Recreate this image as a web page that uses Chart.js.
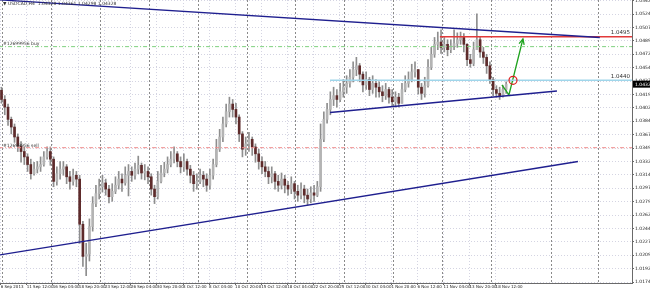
<!DOCTYPE html>
<html>
<head>
<meta charset="utf-8">
<script src="https://cdn.jsdelivr.net/npm/chart.js@4.4.0/dist/chart.umd.min.js"></script>
<style>
html, body { margin: 0; padding: 0; background: #fff; }
canvas { display: block; }
</style>
</head>
<body>
<canvas id="grafico" width="650" height="290"></canvas>
<script>
// USDCAD H4, una vela cada 8 horas (2 barras H4)
const primeraApertura = 1.0425
const cierres = [1.0413,1.0403,1.0387,1.0377,1.0364,1.0352,1.0345,1.0338,1.0328,1.0316,
  1.0322,1.0325,1.0328,1.0338,1.0345,1.0335,1.0306,1.0316,1.0322,1.0325,
  1.0312,1.0306,1.0314,1.0309,1.0250,1.0208,1.0211,1.0247,1.0277,1.0290,
  1.0299,1.0304,1.0296,1.0286,1.0293,1.0301,1.0309,1.0304,1.0314,1.0319,
  1.0314,1.0322,1.0327,1.0317,1.0319,1.0312,1.0296,1.0286,1.0306,1.0317,
  1.0322,1.0328,1.0335,1.0342,1.0332,1.0325,1.0332,1.0322,1.0314,1.0303,
  1.0306,1.0314,1.0309,1.0301,1.0314,1.0328,1.0348,1.0364,1.0381,1.0397,
  1.0407,1.0400,1.0390,1.0368,1.0348,1.0355,1.0361,1.0351,1.0342,1.0332,
  1.0325,1.0319,1.0312,1.0316,1.0306,1.0301,1.0309,1.0301,1.0296,1.0303,
  1.0293,1.0288,1.0296,1.0288,1.0283,1.0291,1.0288,1.0299,1.0361,1.0387,
  1.0400,1.0413,1.0418,1.0413,1.0423,1.0429,1.0434,1.0442,1.0452,1.0457,
  1.0446,1.0432,1.0439,1.0426,1.0434,1.0429,1.0423,1.0418,1.0426,1.0416,
  1.0410,1.0416,1.0408,1.0426,1.0434,1.0439,1.0449,1.0452,1.0429,1.0421,
  1.0431,1.0455,1.0472,1.0485,1.0488,1.0481,1.0485,1.0478,1.0483,1.0486,
  1.0491,1.0494,1.0485,1.0465,1.0460,1.0478,1.0491,1.0475,1.0468,1.0457,
  1.0439,1.0426,1.0421,1.0418,1.0426,1.0433]
const maximos = [1.0429,1.0418,1.0407,1.0390,1.0381,1.0368,1.0358,1.0351,1.0342,1.0335,
  1.0331,1.0332,1.0338,1.0345,1.0351,1.0351,1.0338,1.0325,1.0332,1.0332,
  1.0328,1.0319,1.0322,1.0319,1.0314,1.0254,1.0225,1.0257,1.0286,1.0301,
  1.0309,1.0314,1.0309,1.0301,1.0303,1.0312,1.0319,1.0316,1.0325,1.0328,
  1.0325,1.0330,1.0339,1.0330,1.0328,1.0325,1.0316,1.0301,1.0319,1.0327,
  1.0331,1.0338,1.0345,1.0351,1.0345,1.0338,1.0342,1.0335,1.0327,1.0319,
  1.0316,1.0322,1.0319,1.0316,1.0322,1.0335,1.0361,1.0374,1.0390,1.0407,
  1.0416,1.0413,1.0408,1.0393,1.0371,1.0364,1.0370,1.0364,1.0355,1.0348,
  1.0338,1.0332,1.0325,1.0325,1.0319,1.0314,1.0317,1.0314,1.0306,1.0312,
  1.0306,1.0301,1.0304,1.0301,1.0296,1.0299,1.0301,1.0306,1.0381,1.0397,
  1.0408,1.0423,1.0429,1.0426,1.0434,1.0439,1.0444,1.0452,1.0462,1.0468,
  1.0460,1.0449,1.0449,1.0442,1.0444,1.0439,1.0436,1.0431,1.0434,1.0429,
  1.0426,1.0423,1.0421,1.0434,1.0444,1.0449,1.0459,1.0462,1.0452,1.0434,
  1.0442,1.0465,1.0481,1.0494,1.0501,1.0504,1.0494,1.0491,1.0491,1.0504,
  1.0500,1.0501,1.0499,1.0486,1.0472,1.0488,1.0525,1.0494,1.0481,1.0472,
  1.0462,1.0442,1.0431,1.0429,1.0431,1.0436]
const minimos = [1.0408,1.0393,1.0379,1.0368,1.0357,1.0345,1.0331,1.0328,1.0319,1.0309,
  1.0314,1.0317,1.0319,1.0326,1.0335,1.0327,1.0299,1.0301,1.0309,1.0314,
  1.0303,1.0296,1.0301,1.0299,1.0225,1.0195,1.0183,1.0202,1.0241,1.0273,
  1.0283,1.0292,1.0288,1.0278,1.0280,1.0290,1.0296,1.0293,1.0301,1.0287,
  1.0306,1.0309,1.0316,1.0309,1.0308,1.0303,1.0288,1.0277,1.0283,1.0304,
  1.0312,1.0317,1.0325,1.0330,1.0325,1.0317,1.0319,1.0314,1.0304,1.0293,
  1.0296,1.0303,1.0299,1.0293,1.0296,1.0309,1.0325,1.0345,1.0358,1.0377,
  1.0390,1.0390,1.0381,1.0358,1.0338,1.0340,1.0345,1.0340,1.0331,1.0322,
  1.0316,1.0312,1.0303,1.0304,1.0296,1.0293,1.0296,1.0291,1.0288,1.0290,
  1.0283,1.0280,1.0283,1.0278,1.0275,1.0278,1.0280,1.0286,1.0293,1.0358,
  1.0382,1.0393,1.0405,1.0403,1.0410,1.0416,1.0421,1.0429,1.0436,1.0444,
  1.0436,1.0423,1.0426,1.0418,1.0421,1.0416,1.0416,1.0410,1.0413,1.0408,
  1.0405,1.0403,1.0403,1.0408,1.0423,1.0429,1.0436,1.0442,1.0420,1.0413,
  1.0416,1.0429,1.0452,1.0468,1.0478,1.0473,1.0475,1.0470,1.0474,1.0478,
  1.0481,1.0485,1.0475,1.0457,1.0455,1.0457,1.0481,1.0468,1.0460,1.0447,
  1.0434,1.0418,1.0416,1.0413,1.0416,1.0421]

// etiquetas del eje de tiempo, una cada 16 barras H4
const etiquetasTiempo = ['6 Sep 2013','11 Sep 12:00','16 Sep 04:00','18 Sep 20:00','23 Sep 12:00',
  '26 Sep 04:00','30 Sep 20:00','3 Oct 12:00','8 Oct 04:00','10 Oct 20:00','15 Oct 12:00',
  '18 Oct 04:00','22 Oct 20:00','25 Oct 12:00','30 Oct 04:00','1 Nov 20:00','6 Nov 12:00',
  '11 Nov 04:00','13 Nov 20:00','18 Nov 12:00']
const etiquetasPrecio = [1.01745,1.01920,1.02095,1.02270,1.02445,1.02620,1.02795,1.02970,
  1.03145,1.03320,1.03495,1.03670,1.03845,1.04020,1.04195,1.04370,1.04545,1.04720,
  1.04895,1.05070,1.05245,1.05420]
// separadores de semana (indice de barra H4)
const separadores = [1,31,61,91,121,151,181,211,241,271,301,338,367]

// objetos dibujados: [indice H4, precio]
const lineaSuperior = [[-0.4, 1.0543], [368, 1.0494]]
const lineaInferior = [[-0.4, 1.0210], [354.6, 1.0332]]
const lineaMedia = [[202.3, 1.0396], [341.7, 1.0424]]
const nivelRojo = 1.0495
const nivelAzul = 1.0438
const ordenCompra = 1.0482
const ordenVenta = 1.0350
const flecha = [[307.9, 1.0432], [312.2, 1.0419], [320.8, 1.0492]]
const circulo = [314.7, 1.0438]

const cabecera = '\u25BC USDCAD,H4  1.04328 1.04361 1.04298 1.04328'
const textoCompra = '#12699956 buy'
const textoVenta = '#12699956 sell'
const precioActual = '1.04328'

const velas = cierres.map((c, j) => {
  const o = j === 0 ? primeraApertura : cierres[j - 1]
  return { x: 2 * j + 0.5, o: o, c: c, h: maximos[j], l: minimos[j] }
})

const finX = 387.8
const aPuntos = par => ({ x: par[0], y: par[1] })

function lineaDatos(datos, color, ancho, dash) {
  return {
    type: 'line', data: datos, borderColor: color, borderWidth: ancho,
    borderDash: dash || [], pointRadius: 0, fill: false, order: 1, tension: 0
  }
}

const extras = {
  id: 'extras',
  beforeDatasetsDraw(chart) {
    const ctx = chart.ctx
    const x = chart.scales.x
    const area = chart.chartArea
    ctx.save()
    ctx.strokeStyle = '#8a8a8a'
    ctx.lineWidth = 1
    ctx.setLineDash([2, 2])
    separadores.forEach(s => {
      const px = Math.round(x.getPixelForValue(s)) + 0.5
      ctx.beginPath()
      ctx.moveTo(px, area.top)
      ctx.lineTo(px, area.bottom)
      ctx.stroke()
    })
    ctx.restore()
  },
  afterDatasetsDraw(chart) {
    const ctx = chart.ctx
    const x = chart.scales.x
    const y = chart.scales.y
    const area = chart.chartArea
    ctx.save()
    // punta de la flecha
    const a = flecha[flecha.length - 2], b = flecha[flecha.length - 1]
    const x1 = x.getPixelForValue(a[0]), y1 = y.getPixelForValue(a[1])
    const x2 = x.getPixelForValue(b[0]), y2 = y.getPixelForValue(b[1])
    const ang = Math.atan2(y2 - y1, x2 - x1)
    ctx.strokeStyle = '#1fa31f'
    ctx.lineWidth = 1.3
    ctx.beginPath()
    ctx.moveTo(x2 - 6 * Math.cos(ang - 0.45), y2 - 6 * Math.sin(ang - 0.45))
    ctx.lineTo(x2, y2)
    ctx.lineTo(x2 - 6 * Math.cos(ang + 0.45), y2 - 6 * Math.sin(ang + 0.45))
    ctx.stroke()

    // textos
    ctx.fillStyle = '#333'
    ctx.font = '4.5px "DejaVu Sans"'
    ctx.textBaseline = 'middle'
    ctx.textAlign = 'left'
    ctx.fillText(cabecera, 3, 4)
    ctx.fillText(textoCompra, 3, y.getPixelForValue(ordenCompra) - 3)
    ctx.fillText(textoVenta, 3, y.getPixelForValue(ordenVenta) - 2)
    ctx.font = '5.5px "DejaVu Sans"'
    ctx.textAlign = 'right'
    ctx.textBaseline = 'bottom'
    ctx.fillText(nivelRojo.toFixed(4), area.right - 2, y.getPixelForValue(nivelRojo) - 1)
    ctx.fillText('1.0440', area.right - 2, y.getPixelForValue(nivelAzul) - 1)

    // precio actual en el eje
    const py = y.getPixelForValue(cierres[cierres.length - 1])
    ctx.fillStyle = '#000'
    ctx.fillRect(area.right + 1, py - 3.5, 18, 7)
    ctx.fillStyle = '#fff'
    ctx.font = '4.5px "DejaVu Sans"'
    ctx.textAlign = 'left'
    ctx.textBaseline = 'middle'
    ctx.fillText(precioActual, area.right + 3, py + 0.5)
    ctx.restore()
  }
}

const config = {
  type: 'bar',
  data: {
    datasets: [
      lineaDatos(lineaSuperior.map(aPuntos), '#1f1f8f', 1.4),
      lineaDatos(lineaInferior.map(aPuntos), '#1f1f8f', 1.4),
      lineaDatos(lineaMedia.map(aPuntos), '#1f1f8f', 1.4),
      lineaDatos([{ x: 269.8, y: nivelRojo }, { x: finX, y: nivelRojo }], '#e23a3a', 1.5),
      lineaDatos([{ x: 202.3, y: nivelAzul }, { x: finX, y: nivelAzul }], '#9fd6ea', 1.5),
      lineaDatos([{ x: -1, y: ordenCompra }, { x: finX, y: ordenCompra }], '#7ed07e', 1, [4, 2, 1, 2]),
      lineaDatos([{ x: -1, y: ordenVenta }, { x: finX, y: ordenVenta }], '#ef8c8c', 1, [4, 2, 1, 2]),
      lineaDatos(flecha.map(aPuntos), '#1fa31f', 1.3),
      {
        type: 'line', data: [aPuntos(circulo)], showLine: false, pointRadius: 4,
        pointStyle: 'circle', pointBorderColor: '#e02020', pointBorderWidth: 1.2,
        pointBackgroundColor: 'rgba(0,0,0,0)', order: 0
      },
      {
        type: 'bar',
        data: velas.map(v => ({ x: v.x, y: [v.o, v.c] })),
        backgroundColor: velas.map(v => v.c >= v.o ? '#b4b4b4' : '#5e2b2b'),
        barThickness: 2, minBarLength: 1, grouped: false, order: 9
      },
      {
        type: 'bar',
        data: velas.map(v => ({ x: v.x, y: [Math.min(v.l, v.o, v.c), Math.max(v.h, v.o, v.c)] })),
        backgroundColor: '#8e8e8e',
        barThickness: 1, grouped: false, order: 10
      }
    ]
  },
  options: {
    responsive: false,
    animation: false,
    devicePixelRatio: 1,
    layout: { padding: 0, autoPadding: false },
    plugins: { legend: { display: false }, tooltip: { enabled: false } },
    scales: {
      x: {
        type: 'linear', position: 'bottom', min: -0.43, max: finX, offset: false,
        afterBuildTicks: s => { s.ticks = etiquetasTiempo.map((t, k) => ({ value: k * 16 })) },
        afterFit: s => { s.height = 7; s.paddingLeft = 0; s.paddingRight = 0 },
        ticks: {
          callback: (v, i) => etiquetasTiempo[i], align: 'start', autoSkip: false,
          maxRotation: 0, padding: 0, color: '#222', font: { family: 'DejaVu Sans', size: 4 }
        },
        grid: { color: '#d4d4e2', tickLength: 2, tickColor: '#666', offset: false },
        border: { display: true, color: '#6a6a6a', dash: [1, 2] }
      },
      y: {
        type: 'linear', position: 'right', min: 1.01733, max: 1.05429,
        afterBuildTicks: s => { s.ticks = etiquetasPrecio.map(v => ({ value: v })) },
        afterFit: s => { s.width = 18; s.paddingTop = 0; s.paddingBottom = 0 },
        ticks: {
          callback: v => v.toFixed(5), crossAlign: 'near', padding: 1, autoSkip: false,
          color: '#222', font: { family: 'DejaVu Sans', size: 4.5 }
        },
        grid: { color: '#d4d4e2', tickLength: 2, tickColor: '#666' },
        border: { display: true, color: '#6a6a6a', dash: [1, 2] }
      }
    }
  },
  plugins: [extras]
}

const grafico = new Chart(document.getElementById('grafico'), config)
</script>
</body>
</html>
